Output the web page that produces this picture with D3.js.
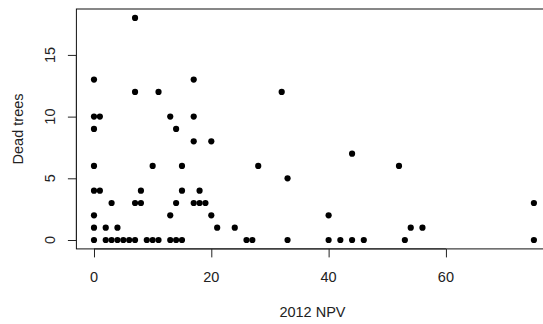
<!DOCTYPE html>
<html>
<head>
<meta charset="utf-8">
<script src="https://cdn.jsdelivr.net/npm/d3@7"></script>
<style>
  html, body { margin: 0; padding: 0; background: #fff; }
  svg { display: block; }
  text { font-family: "Liberation Sans", Arial, sans-serif; fill: #222; }
</style>
</head>
<body>
<svg id="chart" width="543" height="324"></svg>
<script>
// Data (2012 NPV vs dead trees)
const npv = [0,0,0,0,0,0,0,0, 1,1, 2,2, 3,3, 4,4, 5, 6, 7,7,7,7, 8,8, 9, 10,10, 11,11,
             13,13,13, 14,14,14, 15,15,15, 17,17,17,17, 18,18, 19, 20,20, 21, 24, 26, 27, 28,
             32, 33,33, 40,40, 42, 44,44, 46, 52, 53, 54, 56, 75,75];
const deadTrees = [0,1,2,4,6,9,10,13, 4,10, 0,1, 0,3, 0,1, 0, 0, 0,3,12,18, 3,4, 0, 0,6, 0,12,
             0,2,10, 0,3,9, 0,4,6, 3,8,10,13, 3,4, 3, 2,8, 1, 1, 0, 0, 6,
             12, 0,5, 0,2, 0, 0,7, 0, 6, 0, 1, 1, 0,3];
const xTicks = [0, 20, 40, 60];
const yTicks = [0, 5, 10, 15];
const xTitle = "2012 NPV";
const yTitle = "Dead trees";

const svg = d3.select("#chart");
const pLeft = 76.4, pRight = 551.5, pTop = 9, pBottom = 248.9;

const x = d3.scaleLinear().domain([-3, 78]).range([pLeft, pRight]);
const y = d3.scaleLinear().domain([-0.72, 18.72]).range([pBottom, pTop]);

// plot box
svg.append("rect")
  .attr("x", pLeft).attr("y", pTop)
  .attr("width", pRight - pLeft).attr("height", pBottom - pTop)
  .attr("fill", "none").attr("stroke", "#111").attr("stroke-width", 1);

// x axis
const xAxis = svg.append("g")
  .attr("transform", `translate(0,${pBottom})`)
  .call(d3.axisBottom(x).tickValues(xTicks).tickSize(8.5).tickFormat(""));
xAxis.select(".domain")
  .attr("d", `M${x(xTicks[0])},0H${x(xTicks[xTicks.length-1])}`)
  .attr("stroke", "#222");
xAxis.selectAll(".tick line").attr("stroke", "#222");

svg.append("g").selectAll("text").data(xTicks).join("text")
  .attr("x", d => x(d)).attr("y", 282.3)
  .attr("text-anchor", "middle")
  .style("font-size", "14.5px")
  .text(d => d);

// y axis
const yAxis = svg.append("g")
  .attr("transform", `translate(${pLeft},0)`)
  .call(d3.axisLeft(y).tickValues(yTicks).tickSize(8.5).tickFormat(""));
yAxis.select(".domain")
  .attr("d", `M0,${y(yTicks[0])}V${y(yTicks[yTicks.length-1])}`)
  .attr("stroke", "#222");
yAxis.selectAll(".tick line").attr("stroke", "#222");

svg.append("g").selectAll("text").data(yTicks).join("text")
  .attr("transform", d => `translate(55,${y(d)}) rotate(-90)`)
  .attr("text-anchor", "middle")
  .style("font-size", "14.5px")
  .text(d => d);

// axis titles
svg.append("text")
  .attr("x", (pLeft + pRight) / 2 - 1.5).attr("y", 317.3)
  .attr("text-anchor", "middle")
  .style("font-size", "14.5px")
  .text(xTitle);

svg.append("text")
  .attr("transform", `translate(22.5,${(pTop + pBottom) / 2}) rotate(-90)`)
  .attr("text-anchor", "middle")
  .style("font-size", "14.5px")
  .text(yTitle);

// points
svg.append("g").selectAll("circle").data(npv.map((v, i) => [v, deadTrees[i]])).join("circle")
  .attr("cx", d => x(d[0]))
  .attr("cy", d => y(d[1]))
  .attr("r", 3.1)
  .attr("fill", "#000");
</script>
</body>
</html>
